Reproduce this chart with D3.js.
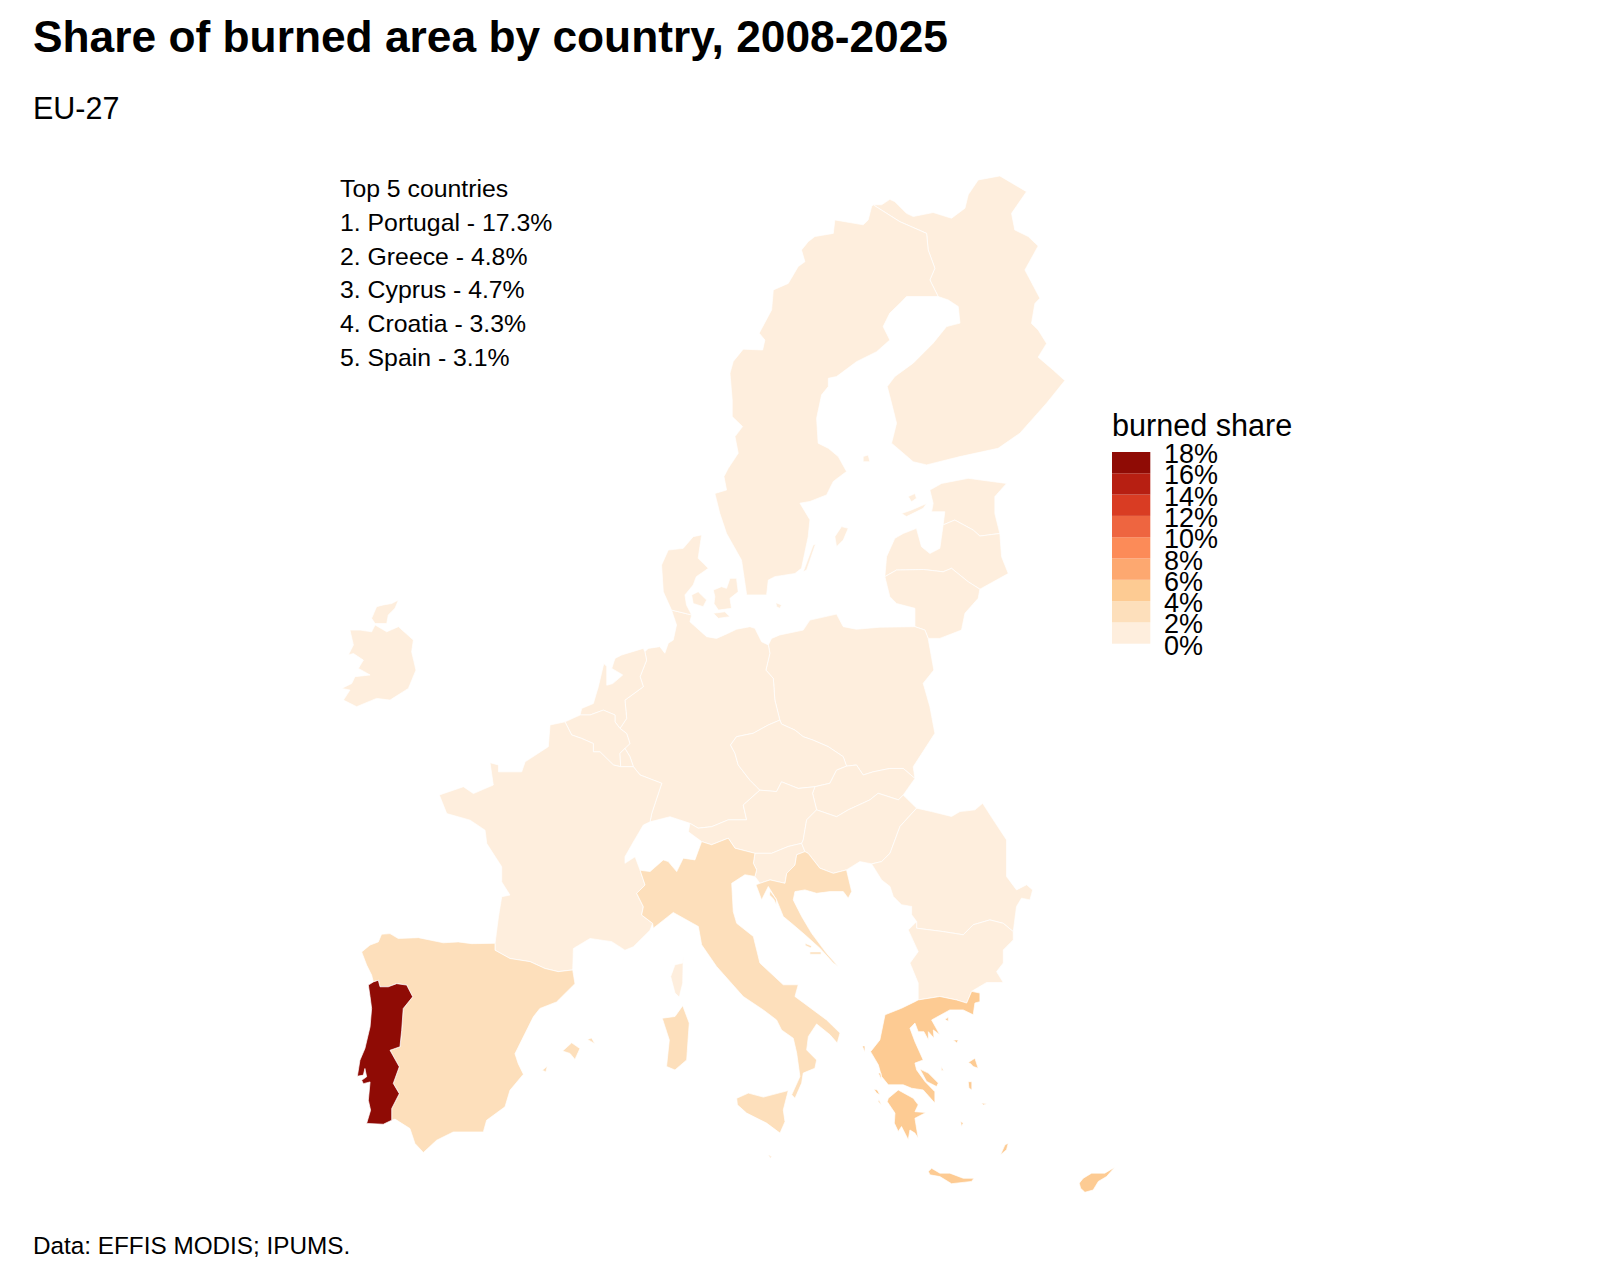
<!DOCTYPE html>
<html><head><meta charset="utf-8">
<script src="https://cdn.jsdelivr.net/npm/d3@7"></script>
<style>html,body{margin:0;padding:0;background:#fff}svg{display:block}text{font-family:"Liberation Sans",Arial,sans-serif;fill:#000}</style>
</head><body><svg id="c" width="1600" height="1280"></svg>
<script>
const titleText="Share of burned area by country, 2008-2025";
const subtitleText="EU-27";
const captionText="Data: EFFIS MODIS; IPUMS.";
const topList=["Top 5 countries","1. Portugal - 17.3%","2. Greece - 4.8%","3. Cyprus - 4.7%","4. Croatia - 3.3%","5. Spain - 3.1%"];
const legendTitle="burned share";
const legendBreaks=[0,2,4,6,8,10,12,14,16,18];
const binColors=["#FEEEDD","#FDDFBB","#FDCB93","#FDA870","#FC8B58","#EE6540","#D93C23","#B71F12","#8F0B05"];

// burned share (%) per country
const shares={Portugal:17.3,Greece:4.8,Cyprus:4.7,Croatia:3.3,Spain:3.1,Italy:2.8,France:0.6,Sweden:0.1,Finland:0.1,Estonia:0.2,Latvia:0.3,Lithuania:0.2,Poland:0.2,Germany:0.1,Netherlands:0.2,Belgium:0.2,Luxembourg:0.1,Denmark:0.1,Ireland:1.2,Czechia:0.1,Slovakia:0.3,Austria:0.1,Slovenia:0.6,Hungary:0.6,Romania:1.4,Bulgaria:1.9};

// outlines as [longitude, latitude]
const finland=[[[20.53,69.10],[22.08,68.51],[23.64,68.10],[23.73,67.52],[24.12,66.88],[23.83,66.47],[24.31,65.89],[24.90,65.77],[25.48,65.54],[25.58,64.96],[24.80,64.84],[24.02,64.26],[22.86,63.56],[21.79,63.09],[21.35,62.74],[21.70,61.92],[21.89,61.46],[21.60,60.76],[22.86,60.11],[23.64,60.00],[25.58,60.29],[27.80,60.58],[29.07,61.11],[30.62,62.16],[31.68,62.95],[31.00,63.32],[30.13,63.77],[30.62,64.25],[30.13,64.72],[29.74,64.95],[29.94,65.65],[30.23,65.83],[29.36,66.82],[30.13,67.66],[29.55,67.99],[28.77,68.22],[28.58,68.80],[29.45,69.56],[27.90,70.11],[26.64,69.97],[26.06,69.45],[25.87,68.98],[25.09,68.63],[24.02,68.83],[22.86,68.69],[22.47,68.80],[21.79,69.21],[21.50,69.29],[21.02,69.10]],
[[19.95,60.29],[20.24,60.35],[20.34,60.11],[19.95,60.11]]];
const sweden=[[[20.53,69.10],[22.08,68.51],[23.64,68.10],[23.73,67.52],[24.12,66.88],[23.83,66.47],[24.31,65.89],[22.47,65.89],[22.08,65.65],[21.50,65.31],[21.11,64.84],[21.50,64.37],[20.73,63.96],[19.56,63.61],[18.40,63.09],[17.92,63.03],[17.92,62.74],[17.53,62.45],[17.24,61.63],[17.33,60.76],[17.92,60.58],[18.50,60.29],[18.98,59.77],[18.21,59.42],[17.82,58.95],[16.85,58.72],[16.27,58.66],[16.85,58.08],[16.75,57.49],[16.36,56.38],[15.98,56.20],[14.81,56.09],[14.43,55.97],[14.33,55.45],[13.17,55.45],[12.87,56.67],[12.00,57.60],[11.61,58.30],[11.32,59.00],[12.00,59.12],[11.85,59.59],[12.10,59.88],[12.68,60.41],[12.49,60.99],[12.93,61.34],[12.33,61.69],[12.33,62.27],[12.20,63.21],[12.39,63.62],[12.97,64.05],[14.10,64.02],[14.23,64.37],[13.90,64.61],[14.62,65.42],[14.72,66.12],[15.59,66.35],[16.17,66.94],[16.56,67.11],[16.36,67.52],[16.75,67.81],[17.14,67.99],[18.21,68.10],[18.30,68.57],[19.95,68.40],[20.24,68.57],[20.44,69.04]],
[[18.69,57.84],[19.08,57.78],[18.79,57.37],[18.40,57.14],[18.30,57.49]],
[[17.18,57.23],[16.66,56.32],[16.46,56.26],[17.04,57.20]]];
const estonia=[[[23.83,59.12],[24.51,59.35],[26.06,59.53],[28.29,59.35],[27.61,58.89],[27.61,58.30],[27.90,57.60],[26.74,57.51],[26.35,57.72],[25.28,58.07],[24.60,57.90],[24.70,58.36],[23.93,58.36],[24.02,58.65]],
[[22.18,58.30],[22.76,58.42],[23.64,58.65],[23.44,58.48],[22.47,58.19]],
[[22.57,58.89],[22.96,59.00],[23.05,58.83],[22.76,58.71]]];
const latvia=[[[24.60,57.90],[24.41,57.08],[23.83,56.90],[23.34,57.14],[23.05,57.78],[22.28,57.60],[21.79,57.43],[21.31,56.79],[21.21,56.09],[21.89,56.32],[23.44,56.34],[24.60,56.26],[25.09,56.38],[26.06,55.91],[26.74,55.65],[28.39,56.20],[28.00,56.79],[27.90,57.60],[26.74,57.51],[26.35,57.72],[25.28,58.07]]];
const lithuania=[[[21.21,56.09],[21.50,55.39],[21.89,55.15],[22.96,54.98],[22.96,54.34],[23.54,54.22],[23.73,53.93],[24.41,53.93],[25.67,54.22],[25.87,54.81],[26.64,55.33],[26.74,55.65],[26.06,55.91],[25.09,56.38],[24.60,56.26],[23.44,56.34],[21.89,56.32]]];
const poland=[[[14.43,53.70],[14.62,53.93],[15.10,54.05],[16.46,54.22],[16.85,54.57],[18.40,54.78],[18.79,54.34],[19.56,54.25],[20.92,54.32],[22.96,54.34],[23.54,54.22],[23.73,53.93],[24.06,52.82],[23.44,52.36],[23.83,51.54],[24.12,50.61],[22.86,49.44],[22.96,49.03],[22.28,49.38],[21.50,49.38],[20.53,49.26],[19.95,49.15],[19.56,49.50],[18.98,49.46],[18.79,49.79],[17.92,50.14],[17.04,50.37],[16.46,50.49],[15.98,50.72],[15.20,50.93],[15.10,51.07],[14.81,51.77],[14.72,52.53],[14.29,52.82],[14.52,53.41]]];
const germany=[[[7.25,53.46],[7.44,53.58],[8.12,53.64],[8.41,53.41],[8.61,53.76],[8.90,53.87],[9.09,54.40],[8.80,54.92],[9.97,54.75],[9.87,54.51],[10.84,53.99],[11.42,53.93],[12.10,54.11],[12.58,54.25],[13.36,54.34],[13.65,54.28],[14.04,53.81],[14.43,53.70],[14.52,53.41],[14.29,52.82],[14.72,52.53],[14.81,51.77],[15.10,51.07],[14.43,50.90],[13.55,50.61],[12.58,50.49],[12.23,50.20],[12.49,49.91],[12.68,49.50],[13.36,48.97],[13.94,48.62],[12.97,48.10],[13.17,47.58],[12.10,47.58],[11.13,47.34],[10.35,47.29],[9.87,47.46],[8.71,47.69],[7.55,47.51],[7.65,47.81],[8.23,48.86],[6.97,49.15],[6.58,49.44],[6.38,49.79],[6.09,50.08],[6.38,50.25],[6.19,50.60],[5.80,50.78],[6.19,51.13],[6.09,51.77],[7.16,52.24],[6.97,52.59],[7.35,53.17]]];
const netherlands=[[[7.25,53.46],[7.35,53.17],[6.97,52.59],[7.16,52.24],[6.09,51.77],[6.19,51.13],[5.80,50.78],[5.51,51.01],[5.51,51.25],[4.83,51.42],[4.06,51.25],[3.48,51.25],[3.57,51.48],[4.25,51.65],[4.54,52.24],[4.86,53.05],[5.03,52.95],[5.03,52.29],[5.38,52.35],[5.96,52.65],[5.32,52.88],[5.51,53.23],[5.90,53.35],[7.16,53.58]]];
const belgium=[[[2.60,51.01],[3.48,51.25],[4.06,51.25],[4.83,51.42],[5.51,51.25],[5.51,51.01],[5.80,50.78],[6.19,50.60],[6.38,50.25],[6.09,50.08],[5.80,49.91],[5.84,49.44],[5.42,49.50],[4.64,49.96],[4.25,49.96],[4.25,50.25],[3.57,50.43],[2.99,50.55]]];
const luxembourg=[[[6.09,50.08],[6.38,49.79],[6.58,49.44],[5.84,49.44],[5.80,49.91]]];
const france=[[[2.60,51.01],[2.99,50.55],[3.57,50.43],[4.25,50.25],[4.25,49.96],[4.64,49.96],[5.42,49.50],[5.84,49.44],[6.58,49.44],[6.97,49.15],[8.23,48.86],[7.65,47.81],[7.55,47.51],[7.16,47.40],[6.58,46.81],[6.09,46.29],[6.09,46.06],[6.68,46.29],[6.97,45.82],[7.26,45.30],[6.77,45.01],[7.16,44.54],[7.06,44.25],[7.70,43.96],[7.55,43.72],[6.58,43.14],[6.09,43.02],[5.32,43.32],[4.06,43.43],[3.09,43.08],[3.05,42.33],[2.21,42.27],[1.44,42.38],[0.57,42.62],[-0.60,42.73],[-1.47,43.02],[-1.47,43.26],[-1.27,44.19],[-1.08,44.89],[-0.60,44.95],[-1.08,45.41],[-1.08,45.94],[-1.95,46.75],[-2.05,47.22],[-2.92,47.57],[-4.28,47.80],[-4.71,48.45],[-3.31,48.74],[-2.73,48.50],[-1.57,48.80],[-1.76,49.58],[-1.27,49.50],[-1.27,49.26],[0.08,49.26],[0.28,49.61],[1.63,50.14],[1.73,50.90]],
[[9.48,42.86],[9.45,42.57],[9.00,42.51],[8.75,42.10],[9.00,41.52],[9.25,41.38],[9.45,41.87]]];
const italy=[[[6.97,45.82],[7.55,45.77],[8.32,46.18],[8.61,46.12],[9.10,45.77],[9.48,46.24],[10.16,46.18],[10.55,46.82],[11.13,46.71],[12.10,46.94],[12.49,46.59],[13.65,46.41],[13.56,46.06],[13.75,45.83],[13.65,45.60],[13.07,45.66],[12.30,45.36],[12.39,44.37],[12.59,43.96],[13.56,43.50],[13.94,42.57],[15.30,41.81],[16.17,41.81],[15.98,41.40],[17.82,40.58],[18.60,40.12],[18.44,39.77],[18.02,40.06],[17.24,40.44],[16.76,40.00],[16.66,39.53],[17.24,39.18],[17.14,38.89],[16.46,38.72],[16.37,38.37],[15.98,37.84],[15.79,37.96],[16.27,38.60],[16.08,39.42],[15.88,39.94],[15.20,40.23],[14.91,40.58],[14.14,40.93],[12.97,41.40],[11.42,42.45],[10.55,43.21],[10.36,43.85],[8.90,44.34],[7.74,43.79],[7.70,43.96],[7.06,44.25],[7.16,44.54],[6.77,45.01],[7.26,45.30]],
[[12.59,37.84],[13.27,38.02],[14.14,37.88],[15.59,38.11],[15.30,37.43],[15.40,37.02],[15.11,36.62],[14.33,36.97],[13.17,37.32],[12.63,37.61]],
[[8.26,40.64],[9.00,40.70],[9.45,41.08],[9.83,40.47],[9.68,39.18],[9.00,38.83],[8.51,38.95],[8.67,39.88]]];
const malta=[[[14.43,35.86],[14.62,35.80],[14.55,35.74]]];
const slovenia=[[[13.65,46.41],[14.62,46.41],[15.59,46.65],[16.37,46.76],[16.56,46.47],[16.08,46.36],[15.98,46.00],[15.50,45.71],[15.40,45.36],[14.53,45.48],[13.94,45.36],[13.65,45.60],[13.75,45.83],[13.56,46.06]]];
const austria=[[[9.87,47.46],[10.35,47.29],[11.13,47.34],[12.10,47.58],[13.17,47.58],[12.97,48.10],[13.94,48.62],[14.91,48.57],[15.20,48.91],[16.17,48.68],[17.14,48.74],[17.00,48.51],[17.24,47.93],[16.66,47.58],[16.46,46.88],[16.37,46.76],[15.59,46.65],[14.62,46.41],[13.65,46.41],[12.49,46.59],[12.10,46.94],[11.13,46.71],[10.55,46.82],[9.78,47.16]]];
const czechia=[[[12.23,50.20],[12.58,50.49],[13.55,50.61],[14.43,50.90],[15.10,51.07],[15.20,50.93],[15.98,50.72],[16.46,50.49],[17.04,50.37],[17.92,50.14],[18.79,49.79],[18.98,49.46],[18.40,49.32],[18.01,48.86],[17.14,48.74],[16.17,48.68],[15.20,48.91],[14.91,48.57],[13.94,48.62],[13.36,48.97],[12.68,49.50],[12.49,49.91]]];
const slovakia=[[[17.14,48.74],[18.01,48.86],[18.40,49.32],[18.98,49.46],[19.56,49.50],[19.95,49.15],[20.53,49.26],[21.50,49.38],[22.28,49.38],[22.96,49.03],[22.28,48.45],[22.00,48.28],[20.82,48.51],[20.34,48.28],[19.08,47.93],[18.40,47.69],[17.24,47.93],[17.00,48.51]]];
const hungary=[[[23.06,47.99],[22.09,47.35],[21.51,46.41],[21.02,46.12],[20.44,46.04],[19.76,46.12],[18.98,45.83],[18.21,45.71],[17.43,45.89],[16.75,46.41],[16.56,46.47],[16.37,46.76],[16.46,46.88],[16.66,47.58],[17.24,47.93],[18.40,47.69],[19.08,47.93],[20.34,48.28],[20.82,48.51],[22.00,48.28],[22.28,48.45]]];
const croatia=[[[16.56,46.47],[16.75,46.41],[17.43,45.89],[18.21,45.71],[18.98,45.83],[19.28,45.07],[19.08,44.84],[18.79,45.07],[18.02,45.07],[17.24,45.01],[16.56,45.13],[15.98,45.07],[15.88,44.78],[16.37,44.20],[16.95,43.61],[17.82,42.91],[18.50,42.45],[18.21,42.57],[17.43,43.09],[16.56,43.56],[15.88,43.91],[15.30,44.20],[14.91,44.78],[14.43,45.25],[14.04,44.78],[13.71,45.31],[13.94,45.36],[14.53,45.48],[15.40,45.36],[15.50,45.71],[15.98,46.00],[16.08,46.36]],
[[16.56,43.26],[16.95,43.17],[16.90,43.10],[16.60,43.18]],
[[16.85,42.96],[17.50,42.96],[17.50,42.88],[16.85,42.88]],
[[14.53,45.10],[14.90,44.80],[14.90,44.60],[14.75,44.80],[14.50,44.95]]];
const romania=[[[23.06,47.99],[23.93,47.87],[25.09,47.70],[25.58,47.87],[26.45,47.93],[26.90,48.16],[27.52,47.58],[28.29,46.88],[28.29,45.60],[28.87,45.13],[29.46,45.31],[29.81,45.13],[29.65,44.78],[29.16,44.84],[28.87,44.55],[28.68,43.67],[28.10,43.96],[27.32,44.08],[26.35,43.91],[25.77,43.56],[24.61,43.67],[23.06,43.79],[23.06,44.02],[22.77,44.26],[22.77,44.55],[22.18,44.61],[21.70,44.90],[21.51,45.25],[21.02,45.48],[20.44,46.04],[21.02,46.12],[21.51,46.41],[22.09,47.35]]];
const bulgaria=[[[23.06,44.02],[22.57,43.73],[23.15,42.97],[22.67,42.57],[23.15,41.87],[23.15,41.28],[24.41,41.40],[25.38,41.28],[25.97,41.17],[26.26,41.58],[27.13,41.89],[28.10,41.89],[27.71,42.27],[28.10,42.57],[28.10,43.03],[28.68,43.38],[28.68,43.67],[28.10,43.96],[27.32,44.08],[26.35,43.91],[25.77,43.56],[24.61,43.67],[23.06,43.79]]];
const greece=[[[23.15,41.28],[24.41,41.40],[25.38,41.28],[25.97,41.17],[26.26,41.58],[26.74,41.52],[26.74,41.22],[26.45,41.17],[26.35,40.76],[25.77,40.93],[24.99,40.93],[23.93,40.58],[24.41,40.06],[24.03,40.23],[24.07,39.94],[23.74,40.17],[23.74,39.88],[23.48,40.17],[23.15,40.17],[22.96,40.47],[22.67,40.29],[22.96,39.82],[23.44,39.18],[22.96,39.07],[23.06,38.83],[23.54,38.43],[24.12,38.07],[24.12,37.67],[23.44,38.13],[22.77,38.19],[22.28,38.31],[21.41,38.31],[21.02,38.60],[20.83,39.01],[20.38,39.47],[20.92,39.88],[21.22,40.76],[22.18,40.99],[22.96,41.22]],
[[21.41,37.84],[21.99,38.13],[22.86,37.84],[23.15,37.61],[22.96,37.37],[23.60,37.34],[22.96,37.14],[23.15,36.44],[22.96,36.62],[22.67,36.73],[22.57,36.39],[22.18,36.85],[21.99,36.68],[21.76,36.97],[21.80,37.32],[21.35,37.72]],
[[23.25,38.86],[23.74,38.72],[24.32,38.37],[24.22,38.25],[23.64,38.43]],
[[20.57,38.16],[20.77,38.13],[20.92,37.96],[20.73,38.02]],
[[19.90,39.67],[20.05,39.67],[20.05,39.45]],
[[20.83,38.72],[20.98,38.72],[21.00,38.50]],
[[20.83,37.72],[21.02,37.60],[20.85,37.80]],
[[26.06,39.09],[26.45,39.24],[26.64,38.89],[26.35,38.95],[26.20,39.05]],
[[26.06,38.42],[26.27,38.42],[26.27,38.13],[26.10,38.20]],
[[25.20,39.88],[25.48,39.88],[25.40,39.77]],
[[24.70,40.60],[24.90,40.67],[24.90,40.53]],
[[23.74,35.28],[23.93,35.39],[24.41,35.22],[24.99,35.22],[25.77,35.04],[26.39,35.04],[26.26,34.93],[25.09,34.85],[24.41,35.10],[23.83,35.16]],
[[27.94,35.86],[28.20,36.21],[28.39,36.27],[28.29,36.04]],
[[25.62,37.03],[25.77,36.97],[25.67,36.85]],
[[26.84,37.67],[27.13,37.65],[26.95,37.60]],
[[24.50,38.95],[24.62,38.80],[24.50,38.82]]];
const cyprus=[[[32.52,34.87],[32.75,35.04],[33.24,35.22],[34.01,35.22],[34.59,35.43],[34.11,35.10],[33.63,34.93],[33.33,34.63],[32.85,34.55],[32.60,34.69]]];
const spain=[[[-9.23,42.96],[-8.74,43.20],[-8.26,43.31],[-8.07,43.58],[-7.58,43.60],[-7.10,43.43],[-5.93,43.46],[-4.48,43.28],[-3.61,43.31],[-2.83,43.25],[-1.47,43.26],[-1.47,43.02],[-0.60,42.73],[0.57,42.62],[1.44,42.38],[2.21,42.27],[3.05,42.33],[3.18,41.85],[2.11,41.21],[1.14,40.98],[0.76,40.69],[-0.31,39.40],[-0.12,39.05],[0.18,38.68],[-0.60,38.12],[-0.89,37.54],[-1.96,37.07],[-2.15,36.66],[-3.90,36.66],[-4.87,36.37],[-5.64,35.94],[-6.13,36.26],[-6.42,36.78],[-7.29,37.11],[-7.48,37.07],[-7.48,37.48],[-7.04,38.00],[-7.39,38.36],[-7.04,38.94],[-7.58,39.52],[-7.00,39.64],[-6.90,40.22],[-6.81,40.98],[-6.26,41.39],[-6.61,41.80],[-7.19,41.85],[-7.68,41.74],[-8.16,41.74],[-8.26,41.97],[-8.55,41.91],[-8.65,42.15],[-8.94,42.50]],
[[2.46,39.49],[2.99,39.78],[3.47,39.58],[3.18,39.20],[2.89,39.41]],
[[3.90,39.90],[4.15,39.95],[4.34,39.75]],
[[1.28,38.82],[1.57,38.96],[1.49,38.76]]];
const portugal=[[[-8.84,41.80],[-8.55,41.91],[-8.26,41.97],[-8.16,41.74],[-7.68,41.74],[-7.19,41.85],[-6.61,41.80],[-6.26,41.39],[-6.81,40.98],[-6.90,40.22],[-7.00,39.64],[-7.58,39.52],[-7.04,38.94],[-7.39,38.36],[-7.04,38.00],[-7.48,37.48],[-7.48,37.07],[-7.97,36.93],[-8.94,36.96],[-8.71,37.42],[-8.84,37.77],[-8.74,38.41],[-9.13,38.35],[-9.23,38.47],[-8.94,38.59],[-9.04,38.88],[-9.13,38.65],[-9.48,38.61],[-9.33,39.17],[-9.04,39.58],[-8.74,40.34],[-8.65,40.98],[-8.74,41.39]]];
const ireland=[[[-9.91,54.22],[-9.32,54.22],[-8.65,54.16],[-8.45,54.40],[-7.77,54.16],[-7.09,54.34],[-6.22,53.87],[-6.32,53.46],[-6.07,52.82],[-6.51,52.18],[-7.58,51.77],[-8.36,51.83],[-9.52,51.54],[-10.29,51.77],[-9.91,52.12],[-10.39,52.18],[-9.81,52.35],[-9.62,52.59],[-8.74,52.65],[-9.42,52.88],[-9.13,53.17],[-9.71,53.40],[-10.00,53.35],[-9.71,53.70]],
[[-8.65,54.63],[-8.36,55.04],[-7.97,55.10],[-7.48,55.15],[-7.09,55.27],[-7.29,54.98],[-7.68,54.75],[-7.77,54.45],[-8.45,54.45]]];
const denmark=[[[8.80,54.92],[8.32,55.56],[8.22,56.50],[8.61,57.02],[9.48,57.08],[10.06,57.49],[10.55,57.55],[10.35,56.73],[10.94,56.38],[10.24,56.09],[10.06,55.80],[9.58,55.45],[9.67,55.10],[9.97,54.75]],
[[9.97,55.45],[10.35,55.56],[10.84,55.27],[10.64,55.04],[10.06,55.15]],
[[11.23,55.62],[11.71,55.74],[12.00,55.68],[12.20,56.03],[12.58,56.03],[12.68,55.56],[12.20,55.33],[12.29,54.98],[11.52,54.92],[11.27,55.15],[11.32,55.39]],
[[11.23,54.81],[11.90,54.86],[12.20,54.69],[11.52,54.63]],
[[14.87,55.18],[15.20,55.10],[15.10,54.98],[14.91,55.04]]];

const countries=[["Finland",finland],["Sweden",sweden],["Estonia",estonia],["Latvia",latvia],["Lithuania",lithuania],["Poland",poland],["Germany",germany],["Netherlands",netherlands],["Belgium",belgium],["Luxembourg",luxembourg],["France",france],["Denmark",denmark],["Ireland",ireland],["Czechia",czechia],["Slovakia",slovakia],["Austria",austria],["Slovenia",slovenia],["Hungary",hungary],["Romania",romania],["Bulgaria",bulgaria],["Italy",italy],["Croatia",croatia],["Spain",spain],["Portugal",portugal],["Greece",greece],["Cyprus",cyprus]];

const svg=d3.select("#c");
const x=d3.scaleLinear().domain([-9.5,34.6]).range([357,1115]);
const y=d3.scaleLinear().domain([34.56,70.09]).range([1192,176.5]);
const fillScale=d3.scaleThreshold().domain(legendBreaks.slice(1,-1)).range(binColors);
const line=d3.line().x(d=>x(d[0])).y(d=>y(d[1])).curve(d3.curveLinearClosed);

svg.append("g").selectAll("path").data(countries).join("path")
  .attr("d",d=>d[1].map(line).join(""))
  .attr("fill",d=>fillScale(shares[d[0]]))
  .attr("stroke","#fff").attr("stroke-width",0.7).attr("stroke-linejoin","round");
svg.append("path").attr("d",malta.map(line).join("")).attr("fill",binColors[0]);

svg.append("text").attr("x",33).attr("y",52).attr("font-size",44.3).attr("font-weight",700).text(titleText);
svg.append("text").attr("x",33).attr("y",119).attr("font-size",30.5).text(subtitleText);
svg.append("text").attr("x",33).attr("y",1254).attr("font-size",24.3).text(captionText);

const listY=d3.scalePoint().domain(topList).range([197,366]);
svg.append("g").selectAll("text").data(topList).join("text")
  .attr("x",340).attr("y",d=>listY(d)).attr("font-size",24.8).text(d=>d);

// legend
const legendY=d3.scaleLinear().domain([0,18]).range([643.7,452]);
const lg=svg.append("g");
lg.append("text").attr("x",1112).attr("y",436).attr("font-size",30.6).text(legendTitle);
lg.selectAll("rect").data(binColors).join("rect")
  .attr("x",1112).attr("width",38.3)
  .attr("y",(d,i)=>legendY(legendBreaks[i+1]))
  .attr("height",(d,i)=>legendY(legendBreaks[i])-legendY(legendBreaks[i+1]))
  .attr("fill",d=>d);
lg.selectAll("text.t").data(legendBreaks).join("text").attr("class","t")
  .attr("x",1164).attr("y",d=>legendY(d)+11).attr("font-size",27).text(d=>d+"%");
</script></body></html>
